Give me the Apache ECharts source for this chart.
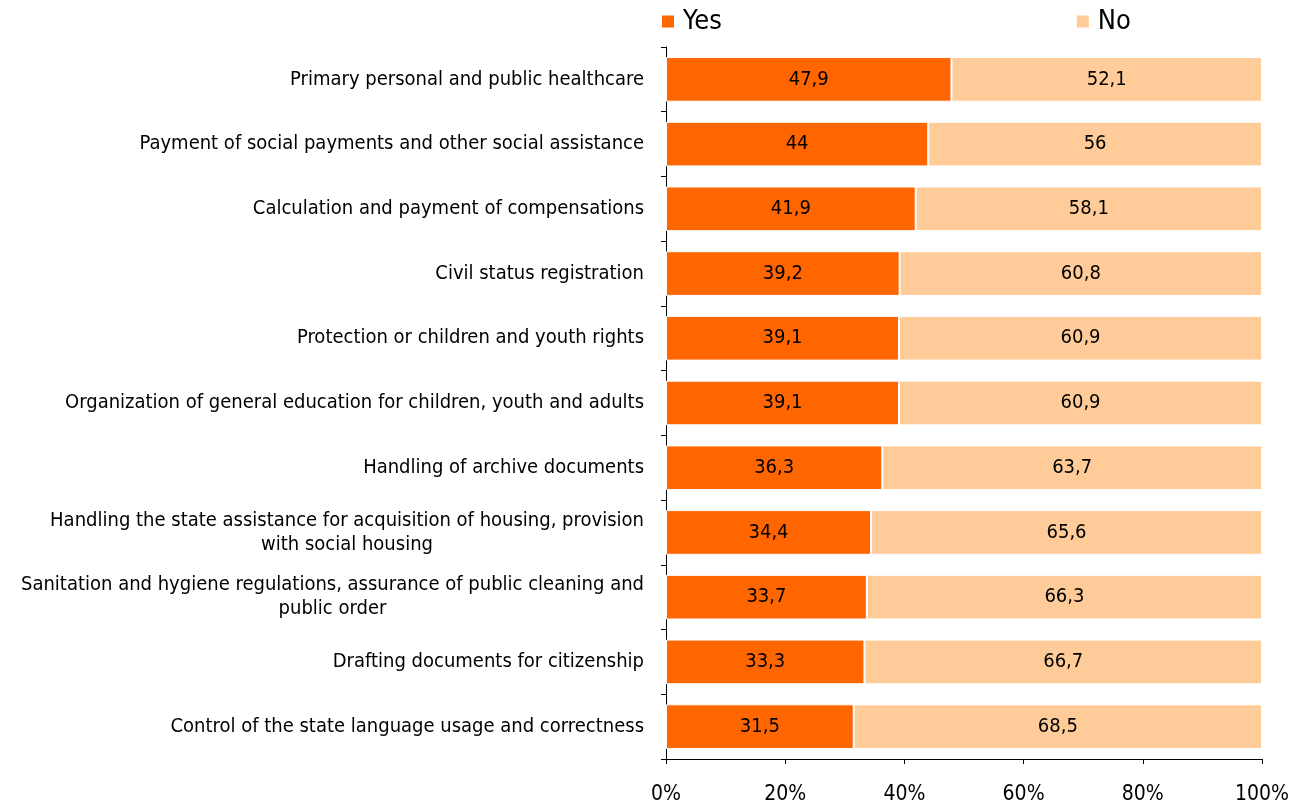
<!DOCTYPE html>
<html>
<head>
<meta charset="utf-8">
<script src="https://cdn.jsdelivr.net/npm/echarts@6/dist/echarts.min.js"></script>
<style>
  html, body { margin: 0; padding: 0; background: #fff; }
  #chart { width: 1308px; height: 805px; }
</style>
</head>
<body>
<div id="chart"></div>
<script>
// Public services: share of respondents answering Yes / No (%)
const categories = [
  'Primary personal and public healthcare',
  'Payment of social payments and other social assistance',
  'Calculation and payment of compensations',
  'Civil status registration',
  'Protection or children and youth rights',
  'Organization of general education for children, youth and adults',
  'Handling of archive documents',
  'Handling the state assistance for acquisition of housing, provision\nwith social housing',
  'Sanitation and hygiene regulations, assurance of public cleaning and\npublic order',
  'Drafting documents for citizenship',
  'Control of the state language usage and correctness'
];
const yesValues = [47.9, 44, 41.9, 39.2, 39.1, 39.1, 36.3, 34.4, 33.7, 33.3, 31.5];
const noValues  = [52.1, 56, 58.1, 60.8, 60.9, 60.9, 63.7, 65.6, 66.3, 66.7, 68.5];
const xTicks = [0, 20, 40, 60, 80, 100];

const FONT = '"DejaVu Sans Condensed", "DejaVu Sans", sans-serif';
const LABEL_SIZE = 20;
const fmt = v => String(v).replace('.', ',');

// Multi-line category labels: lines centred within the block, block right-aligned to the axis.
const measureCtx = document.createElement('canvas').getContext('2d');
measureCtx.font = LABEL_SIZE + 'px ' + FONT;
const richStyles = {};
categories.forEach((c, i) => {
  const lines = c.split('\n');
  if (lines.length > 1) {
    const w = Math.ceil(Math.max(...lines.map(l => measureCtx.measureText(l).width)));
    richStyles['b' + i] = { width: w, align: 'center', fontSize: LABEL_SIZE, lineHeight: 24, fontFamily: FONT, color: '#000' };
  }
});
const catLabel = (value, idx) => {
  const lines = value.split('\n');
  if (lines.length === 1) return value;
  return lines.map(l => '{b' + idx + '|' + l + '}').join('\n');
};

const chart = echarts.init(document.getElementById('chart'));
chart.setOption({
  animation: false,
  textStyle: { fontFamily: FONT },
  legend: {
    top: 3,
    left: 655,
    itemWidth: 14,
    itemHeight: 14,
    itemGap: 353,
    icon: 'rect',
    textStyle: { fontSize: 27, color: '#000', fontFamily: FONT, padding: [0, 0, 0, 3] },
    data: ['Yes', 'No']
  },
  grid: { left: 666, right: 46, top: 47, bottom: 45, containLabel: false },
  xAxis: {
    type: 'value',
    min: xTicks[0],
    max: xTicks[xTicks.length - 1],
    interval: 20,
    axisLine: { show: true, lineStyle: { color: '#000', width: 1 } },
    axisTick: { show: true, length: 5, lineStyle: { color: '#000' } },
    splitLine: { show: false },
    axisLabel: { fontSize: 21, color: '#000', margin: 25, formatter: v => v + '%', fontFamily: FONT }
  },
  yAxis: {
    type: 'category',
    inverse: true,
    data: categories,
    axisLine: { show: true, lineStyle: { color: '#000', width: 1 } },
    axisTick: { show: true, length: 5, lineStyle: { color: '#000' } },
    axisLabel: {
      fontSize: LABEL_SIZE, color: '#000', margin: 22, align: 'right', lineHeight: 24,
      fontFamily: FONT, formatter: catLabel, rich: richStyles
    }
  },
  series: [
    {
      name: 'Yes',
      type: 'bar',
      stack: 'total',
      barCategoryGap: '31%',
      data: yesValues,
      itemStyle: { color: '#FF6600', borderColor: '#fff', borderWidth: 1 },
      label: { show: true, position: 'inside', color: '#000', fontSize: 20, fontFamily: FONT, formatter: p => fmt(p.value) }
    },
    {
      name: 'No',
      type: 'bar',
      stack: 'total',
      data: noValues,
      itemStyle: { color: '#FFCC99', borderColor: '#fff', borderWidth: 1 },
      label: { show: true, position: 'inside', color: '#000', fontSize: 20, fontFamily: FONT, formatter: p => fmt(p.value) }
    }
  ]
});
</script>
</body>
</html>
